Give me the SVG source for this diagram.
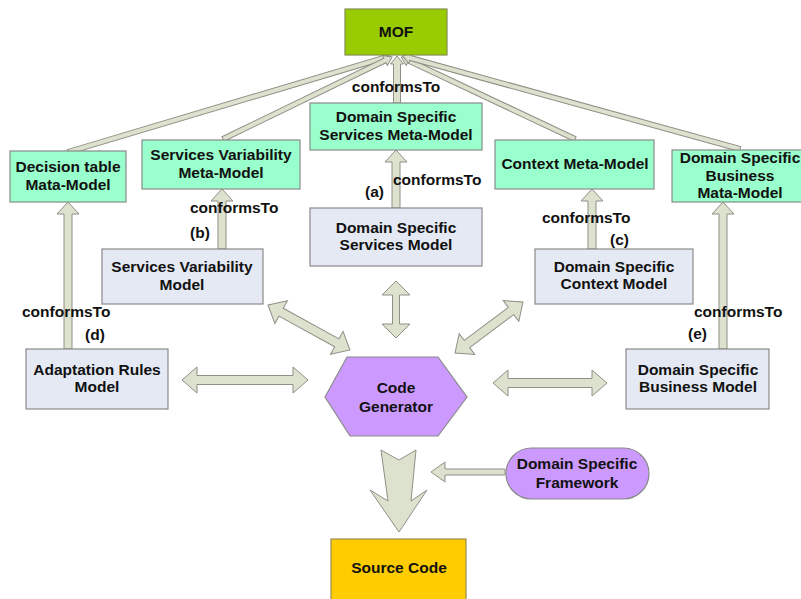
<svg xmlns="http://www.w3.org/2000/svg" width="801" height="599" viewBox="0 0 801 599">
<style>
text{font-family:"Liberation Sans",Arial,sans-serif;font-weight:bold;font-size:15.5px;fill:#111;text-anchor:middle}
.lbl{text-anchor:start}
.mof{fill:#99cc00;stroke:#7f8f50;stroke-width:1.2}
.meta{fill:#99ffcc;stroke:#8a8a8a;stroke-width:1.2}
.model{fill:#e4e9f4;stroke:#8a8a8a;stroke-width:1.2}
.gen{fill:#cc99ff;stroke:#8a8a8a;stroke-width:1.2}
.src{fill:#ffcc00;stroke:#9a8a50;stroke-width:1.2}
.arr{fill:#dde2cf;stroke:#8f8f86;stroke-width:1;stroke-linejoin:miter}
</style>
<rect width="801" height="599" fill="#fff"/>
<g id="connectors">
  <g id="mof-arrows">
    <polygon class="arr" transform="translate(68,152) rotate(-16.6)" points="0,-2.5 328,-2.5 328,-5.5 336,0 328,5.5 328,2.5 0,2.5"/>
    <polygon class="arr" transform="translate(223,139) rotate(-25.88)" points="0,-2.5 180,-2.5 180,-5.5 188,0 180,5.5 180,2.5 0,2.5"/>
    <polygon class="arr" transform="translate(575,139) rotate(-154.77)" points="0,-2.5 184,-2.5 184,-5.5 192,0 184,5.5 184,2.5 0,2.5"/>
    <polygon class="arr" transform="translate(740,149) rotate(-164.57)" points="0,-2.5 342,-2.5 342,-5.5 350,0 342,5.5 342,2.5 0,2.5"/>
    <polygon class="arr" transform="translate(397,103) rotate(-90)" points="0,-3.5 39,-3.5 39,-6.5 47,0 39,6.5 39,3.5 0,3.5"/>
  </g>
  <g id="conforms-arrows">
    <polygon class="arr" points="396,150 407,162 400,162 400,208 392,208 392,162 385,162"/>
    <polygon class="arr" points="222,189 233,201 226,201 226,249 218,249 218,201 211,201"/>
    <polygon class="arr" points="592,189 603,201 596,201 596,249 588,249 588,201 581,201"/>
    <polygon class="arr" points="68,202 79,214 72,214 72,349 64,349 64,214 57,214"/>
    <polygon class="arr" points="723,202 734,214 727,214 727,349 719,349 719,214 712,214"/>
  </g>
  <g id="gen-arrows">
    <polygon class="arr" points="182,380 197,367 197,375.5 293,375.5 293,367 308,380 293,393 293,384.5 197,384.5 197,393"/>
    <polygon class="arr" points="493,383 508,370 508,378.5 592,378.5 592,370 607,383 592,396 592,387.5 508,387.5 508,396"/>
    <polygon class="arr" points="396,281 410,295 399.5,295 399.5,324 410,324 396,338 382,324 392.5,324 392.5,295 382,295"/>
    <polygon class="arr" transform="translate(268,305) rotate(28.76)" points="0,0 15,-13 15,-4.5 78.5,-4.5 78.5,-13 93.5,0 78.5,13 78.5,4.5 15,4.5 15,13"/>
    <polygon class="arr" transform="translate(523,302) rotate(143.13)" points="0,0 15,-13 15,-4.5 70,-4.5 70,-13 85,0 70,13 70,4.5 15,4.5 15,13"/>
    <polygon class="arr" points="381,450 399,460 416,450 411,501 427,490 399,532 370,490 388,501"/>
    <polygon class="arr" points="431,472 445,462 445,469 505,469 505,475 445,475 445,482"/>
  </g>
</g>
<g id="labels">
  <text x="396" y="92">conformsTo</text>
  <text class="lbl" x="393" y="185">conformsTo</text>
  <text class="lbl" x="365" y="197">(a)</text>
  <text class="lbl" x="190" y="213">conformsTo</text>
  <text class="lbl" x="190" y="238">(b)</text>
  <text class="lbl" x="542" y="223">conformsTo</text>
  <text class="lbl" x="610" y="245">(c)</text>
  <text class="lbl" x="22" y="317">conformsTo</text>
  <text class="lbl" x="85" y="340">(d)</text>
  <text class="lbl" x="694" y="317">conformsTo</text>
  <text class="lbl" x="688" y="339">(e)</text>
</g>
<g id="mof">
  <rect class="mof" x="345" y="9" width="102" height="46"/>
  <text x="396" y="37">MOF</text>
</g>
<g id="ds-services-meta">
  <rect class="meta" x="310" y="103" width="172" height="47"/>
  <text x="396" y="122">Domain Specific</text>
  <text x="396" y="140">Services Meta-Model</text>
</g>
<g id="decision-table-meta">
  <rect class="meta" x="10" y="151" width="116" height="51"/>
  <text x="68" y="172">Decision table</text>
  <text x="68" y="190">Mata-Model</text>
</g>
<g id="services-variability-meta">
  <rect class="meta" x="142" y="140" width="158" height="49"/>
  <text x="221" y="160">Services Variability</text>
  <text x="221" y="178">Meta-Model</text>
</g>
<g id="context-meta">
  <rect class="meta" x="495" y="140" width="159" height="49"/>
  <text x="575" y="169">Context Meta-Model</text>
</g>
<g id="ds-business-meta">
  <rect class="meta" x="672" y="150" width="138" height="52"/>
  <text x="740" y="163">Domain Specific</text>
  <text x="740" y="181">Business</text>
  <text x="740" y="198">Mata-Model</text>
</g>
<g id="ds-services-model">
  <rect class="model" x="310" y="208" width="172" height="58"/>
  <text x="396" y="233">Domain Specific</text>
  <text x="396" y="250">Services Model</text>
</g>
<g id="services-variability-model">
  <rect class="model" x="102" y="249" width="161" height="55"/>
  <text x="182" y="272">Services Variability</text>
  <text x="182" y="290">Model</text>
</g>
<g id="ds-context-model">
  <rect class="model" x="535" y="249" width="158" height="55"/>
  <text x="614" y="272">Domain Specific</text>
  <text x="614" y="289">Context Model</text>
</g>
<g id="adaptation-rules-model">
  <rect class="model" x="26" y="349" width="142" height="60"/>
  <text x="97" y="375">Adaptation Rules</text>
  <text x="97" y="392">Model</text>
</g>
<g id="ds-business-model">
  <rect class="model" x="626" y="349" width="143" height="60"/>
  <text x="698" y="375">Domain Specific</text>
  <text x="698" y="392">Business Model</text>
</g>
<g id="code-generator">
  <polygon class="gen" points="325,397 347,357 438,357 467,397 438,436 350,436"/>
  <text x="396" y="393">Code</text>
  <text x="396" y="412">Generator</text>
</g>
<g id="ds-framework">
  <rect class="gen" x="506" y="448" width="143" height="51" rx="25.5" ry="25.5"/>
  <text x="577" y="469">Domain Specific</text>
  <text x="577" y="488">Framework</text>
</g>
<g id="source-code">
  <rect class="src" x="331" y="539" width="135" height="65"/>
  <text x="399" y="573">Source Code</text>
</g>
</svg>
